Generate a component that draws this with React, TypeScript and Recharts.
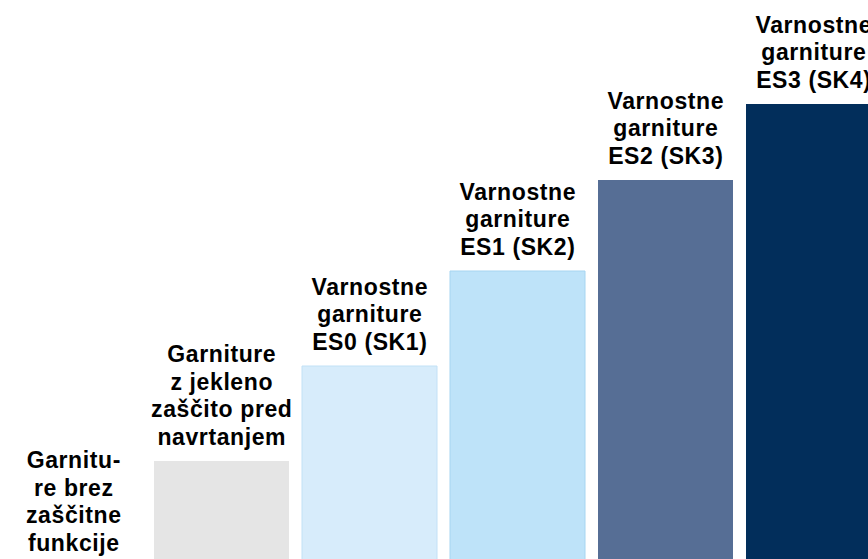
import React from "react";
import { BarChart, Bar, XAxis, YAxis, Cell, LabelList } from "recharts";

const categories = ["none", "steel", "ES0", "ES1", "ES2", "ES3"];
const values = [0, 106, 201, 296, 387, 463];
const labelLines: string[][] = [
  ["Garnitu-", "re brez", "zaščitne", "funkcije"],
  ["Garniture", "z jekleno", "zaščito pred", "navrtanjem"],
  ["Varnostne", "garniture", "ES0 (SK1)"],
  ["Varnostne", "garniture", "ES1 (SK2)"],
  ["Varnostne", "garniture", "ES2 (SK3)"],
  ["Varnostne", "garniture", "ES3 (SK4)"],
];
const fills = ["transparent", "#e5e5e5", "#d7ecfb", "#bee3f9", "#566e95", "#022e5b"];
const strokes = ["none", "none", "#c2e1f6", "#a6d5f1", "none", "none"];

const data = categories.map((c, i) => ({ name: c, value: values[i], idx: i }));

const LINE_H = 27.5;

const renderLabel = (props: any) => {
  const { x, y, width, height, value } = props;
  const i = values.indexOf(Number(value));
  const lines = labelLines[i] || [];
  const cx = Number(x) + Number(width) / 2;
  const top = i === 0 ? Number(y) + Number(height) : Number(y);
  const lastBase = top - 16.5;
  return (
    <text
      textAnchor="middle"
      fontFamily="'Liberation Sans', Arial, Helvetica, sans-serif"
      fontWeight="bold"
      fontSize={23}
      letterSpacing={0.6}
      fill="#000"
    >
      {lines.map((l, k) => (
        <tspan key={k} x={cx + 0.3} y={lastBase - (lines.length - 1 - k) * LINE_H}>
          {l}
        </tspan>
      ))}
    </text>
  );
};

export default function App() {
  return (
    <div
      style={{
        position: "fixed",
        left: 0,
        top: 0,
        width: 868,
        height: 559,
        overflow: "hidden",
        background: "#fff",
      }}
    >
      <div style={{ position: "absolute", left: -1.5, top: 0 }}>
        <BarChart
          width={888}
          height={567}
          data={data}
          margin={{ top: 0, right: 0, bottom: 0, left: 0 }}
          barSize={135}
        >
          <XAxis dataKey="name" hide />
          <YAxis hide domain={[0, 567]} />
          <Bar dataKey="value" isAnimationActive={false} minPointSize={1}>
            {data.map((d, i) => (
              <Cell key={i} fill={fills[i]} stroke={strokes[i]} strokeWidth={1} />
            ))}
            <LabelList dataKey="value" content={renderLabel} />
          </Bar>
        </BarChart>
      </div>
    </div>
  );
}
